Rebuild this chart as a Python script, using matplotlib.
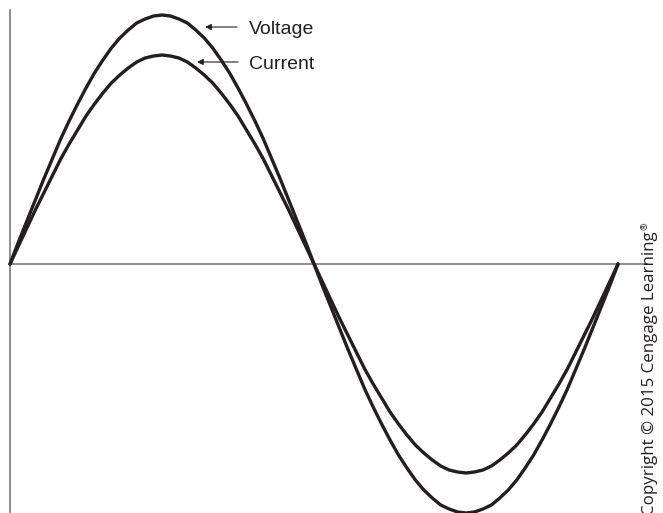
import matplotlib
matplotlib.use("Agg")
import matplotlib.pyplot as plt

# phase angle in degrees, one value every 5 degrees over a full cycle
angles = list(range(0, 361, 5))

voltage = [
    0, 22, 43, 64, 85, 105, 125, 143, 160, 176, 191, 204, 216, 226, 234, 241, 245, 248, 249,
    248, 245, 241, 234, 226, 216, 204, 191, 176, 160, 143, 125, 105, 85, 64, 43, 22, 0,
    -22, -43, -64, -85, -105, -125, -143, -160, -176, -191, -204, -216, -226, -234, -241, -245, -248, -249,
    -248, -245, -241, -234, -226, -216, -204, -191, -176, -160, -143, -125, -105, -85, -64, -43, -22, 0,
]

current = [
    0, 18, 36, 54, 71, 88, 105, 120, 134, 148, 160, 171, 181, 189, 196, 202, 206, 208, 209,
    208, 206, 202, 196, 189, 181, 171, 160, 148, 134, 120, 105, 88, 71, 54, 36, 18, 0,
    -18, -36, -54, -71, -88, -105, -120, -134, -148, -160, -171, -181, -189, -196, -202, -206, -208, -209,
    -208, -206, -202, -196, -189, -181, -171, -160, -148, -134, -120, -105, -88, -71, -54, -36, -18, 0,
]

labels = ["Voltage", "Current"]

ink = "#231f20"
axis_gray = "#707070"

fig = plt.figure(figsize=(6.63, 5.13), dpi=100)
ax = fig.add_axes([0, 0, 1, 1])
ax.patch.set_visible(False)

# 1 degree ~ 1.689 px, 1 unit = 1 px
ax.set_xlim(-5.92, 386.6)
ax.set_ylim(-249, 264)

ax.plot(angles, voltage, color=ink, linewidth=2.4, solid_joinstyle="round", solid_capstyle="round", zorder=3)
ax.plot(angles, current, color=ink, linewidth=2.4, solid_joinstyle="round", solid_capstyle="round", zorder=3)

##axes through origin
ax.spines["top"].set_visible(False)
ax.spines["right"].set_visible(False)
ax.spines["left"].set_position(("data", 0))
ax.spines["bottom"].set_position(("data", 0))
ax.spines["left"].set_bounds(-260, 254)
ax.spines["bottom"].set_bounds(0, 377)
ax.spines["left"].set_color(axis_gray)
ax.spines["bottom"].set_color(axis_gray)
ax.spines["left"].set_linewidth(1.1)
ax.spines["bottom"].set_linewidth(1.1)
ax.set_xticks([])
ax.set_yticks([])

##callouts
arrow_style = dict(arrowstyle="-|>", color=ink, lw=0.8, mutation_scale=9, shrinkA=0, shrinkB=0)
ax.annotate("", xy=(115.5, 237), xytext=(134.4, 237), arrowprops=arrow_style)
ax.annotate("", xy=(110.7, 202), xytext=(135.0, 202), arrowprops=arrow_style)
ax.text(141.5, 229.5, labels[0], fontsize=14, family="Liberation Sans", color=ink, va="baseline", ha="left")
ax.text(141.5, 195, labels[1], fontsize=14, family="Liberation Sans", color=ink, va="baseline", ha="left")

##copyright
cr = fig.text(654 / 663, 1 - 515 / 513, "Copyright © 2015 Cengage Learning", rotation=90,
              rotation_mode="anchor", ha="left", va="baseline", fontsize=12.2,
              family="Open Sans", color=ink)
fig.canvas.draw()
bb = cr.get_window_extent(fig.canvas.get_renderer())
fig.text(648 / 663, (bb.y1 + 1) / 513, "®", rotation=90, rotation_mode="anchor",
         ha="left", va="baseline", fontsize=6.5, family="Open Sans", color=ink)

fig.savefig("out.png", dpi=100)
